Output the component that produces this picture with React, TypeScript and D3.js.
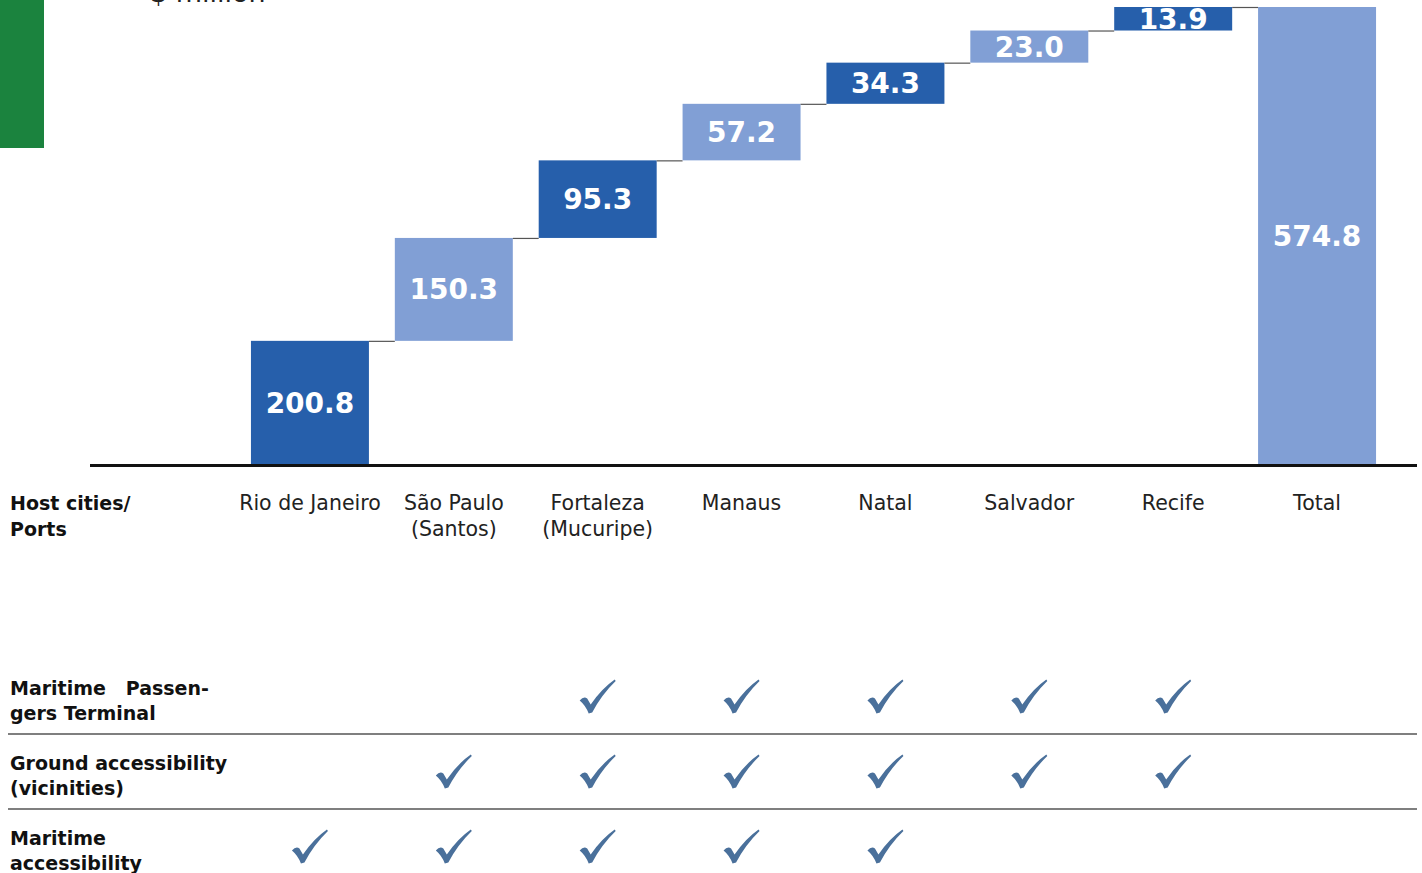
import { useEffect, useRef } from "react";
import * as d3 from "d3";

// investment by host city / port, $ million
const PORTS = ["Rio de Janeiro", "São Paulo (Santos)", "Fortaleza (Mucuripe)", "Manaus", "Natal", "Salvador", "Recife"];
const PORT_LABELS = [["Rio de Janeiro"], ["São Paulo", "(Santos)"], ["Fortaleza", "(Mucuripe)"], ["Manaus"], ["Natal"], ["Salvador"], ["Recife"]];
const INVESTMENT = [200.8, 150.3, 95.3, 57.2, 34.3, 23.0, 13.9];
const TOTAL = 574.8;

const FEATURES = [
  ["Maritime   Passen-", "gers Terminal"],
  ["Ground accessibility", "(vicinities)"],
  ["Maritime", "accessibility"],
];
const PASSENGER_TERMINAL = [false, false, true, true, true, true, true];
const GROUND_ACCESS = [false, true, true, true, true, true, true];
const MARITIME_ACCESS = [true, true, true, true, true, false, false];

const DARK = "#265FAB";
const LIGHT = "#819FD5";
const CHECK = "#4A709B";
const FONT = "'DejaVu Sans', sans-serif";

export default function App() {
  const svgRef = useRef<SVGSVGElement>(null);

  useEffect(() => {
    if (!svgRef.current) return;
    const svg = d3.select(svgRef.current);
    svg.selectAll("*").remove();

    const baseY = 464;
    const topY = 7;
    const cats = [...PORTS, "Total"];
    const labels = [...PORT_LABELS, ["Total"]];

    const x = d3.scaleBand().domain(cats).range([238, 1389]).paddingInner(0.18).paddingOuter(0.09);
    const bw = x.bandwidth();

    // bars are compressed so the small steps stay readable
    const unit = d3.scalePow().exponent(0.62).domain([0, 1]).range([0, 1]);
    const k = (baseY - topY) / d3.sum(INVESTMENT, (v) => unit(v));
    const h = d3.scalePow().exponent(0.62).domain([0, 1]).range([0, k]);
    const cum = Array.from(d3.cumsum(INVESTMENT, (v) => h(v)));

    // $ million, cut at top like the source
    svg.append("rect").attr("x", 0).attr("y", 0).attr("width", 44).attr("height", 148).attr("fill", "#1B833E");
    svg.append("text")
      .attr("x", 150).attr("y", 2)
      .attr("font-family", FONT).attr("font-size", 27).attr("fill", "#222")
      .text("$ million");

    // step bars
    INVESTMENT.forEach((v, i) => {
      const y1 = baseY - cum[i];
      svg.append("rect")
        .attr("x", x(PORTS[i])!)
        .attr("y", y1)
        .attr("width", bw)
        .attr("height", h(v))
        .attr("fill", i % 2 === 0 ? DARK : LIGHT);

      const next = i < INVESTMENT.length - 1 ? PORTS[i + 1] : "Total";
      svg.append("line")
        .attr("x1", x(PORTS[i])! + bw)
        .attr("x2", x(next)!)
        .attr("y1", y1 + 0.5)
        .attr("y2", y1 + 0.5)
        .attr("stroke", "#555")
        .attr("stroke-width", 1.2);

      svg.append("text")
        .attr("x", x(PORTS[i])! + bw / 2)
        .attr("y", y1 + h(v) / 2)
        .attr("dy", "0.36em")
        .attr("text-anchor", "middle")
        .attr("font-family", FONT).attr("font-weight", "bold").attr("font-size", 28)
        .attr("fill", "#fff")
        .text(d3.format(".1f")(v));
    });

    // total bar
    const totalH = cum[cum.length - 1];
    svg.append("rect")
      .attr("x", x("Total")!)
      .attr("y", baseY - totalH)
      .attr("width", bw)
      .attr("height", totalH)
      .attr("fill", LIGHT);
    svg.append("text")
      .attr("x", x("Total")! + bw / 2)
      .attr("y", baseY - totalH / 2)
      .attr("dy", "0.36em")
      .attr("text-anchor", "middle")
      .attr("font-family", FONT).attr("font-weight", "bold").attr("font-size", 28)
      .attr("fill", "#fff")
      .text(d3.format(".1f")(TOTAL));

    // baseline
    svg.append("line")
      .attr("x1", 90).attr("x2", 1417)
      .attr("y1", baseY + 1.5).attr("y2", baseY + 1.5)
      .attr("stroke", "#111").attr("stroke-width", 3);

    // category labels
    const left = svg.append("text")
      .attr("font-family", FONT).attr("font-weight", "bold").attr("font-size", 19).attr("fill", "#111");
    ["Host cities/", "Ports"].forEach((t, j) => left.append("tspan").attr("x", 10).attr("y", 510 + j * 26).text(t));

    cats.forEach((c, i) => {
      const t = svg.append("text")
        .attr("text-anchor", "middle")
        .attr("font-family", FONT).attr("font-size", 20.5).attr("fill", "#222");
      labels[i].forEach((line, j) =>
        t.append("tspan").attr("x", x(c)! + bw / 2).attr("y", 510 + j * 26).text(line)
      );
    });

    // feature table
    const rows = d3.scaleBand().domain(["0", "1", "2"]).range([659, 884]);
    const checks = [PASSENGER_TERMINAL, GROUND_ACCESS, MARITIME_ACCESS];
    const checkPath =
      "M0,21 Q4,16.5 7.5,19 L11,25 Q22,9 35,0 L36,1.5 Q22,15 12.5,33 L9,34 Q6,26 0,21 Z";

    FEATURES.forEach((lines, r) => {
      const y0 = rows(String(r))!;
      const cy = y0 + rows.bandwidth() / 2;
      if (r > 0) {
        svg.append("line")
          .attr("x1", 8).attr("x2", 1417)
          .attr("y1", y0).attr("y2", y0)
          .attr("stroke", "#555").attr("stroke-width", 1.5);
      }
      const t = svg.append("text")
        .attr("font-family", FONT).attr("font-weight", "bold").attr("font-size", 19).attr("fill", "#111")
        .style("white-space", "pre");
      lines.forEach((line, j) => t.append("tspan").attr("x", 10).attr("y", cy - 2 + j * 25).text(line));

      checks[r].forEach((on, i) => {
        if (!on) return;
        svg.append("path")
          .attr("d", checkPath)
          .attr("transform", `translate(${x(PORTS[i])! + bw / 2 - 18},${cy - 17})`)
          .attr("fill", CHECK);
      });
    });
  }, []);

  return (
    <div style={{ position: "absolute", left: 0, top: 0 }}>
      <svg ref={svgRef} width={1422} height={873} style={{ display: "block" }} />
    </div>
  );
}
